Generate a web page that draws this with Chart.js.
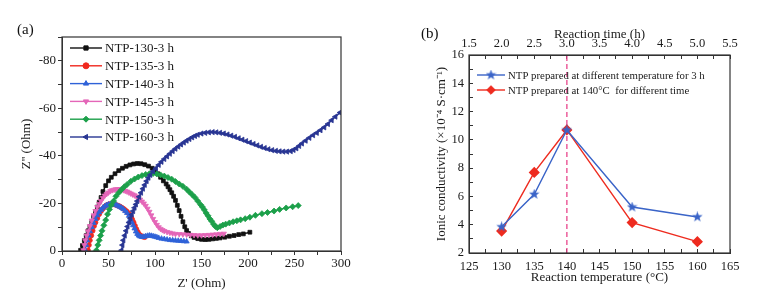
<!DOCTYPE html>
<html>
<head>
<meta charset="utf-8">
<script src="https://cdn.jsdelivr.net/npm/chart.js@4.4.1/dist/chart.umd.min.js"></script>
<style>
  body { margin: 0; background: #fff; width: 762px; height: 295px; position: relative; overflow: hidden; font-family: "Liberation Serif", serif; }
  canvas { position: absolute; top: 0; }
  #ca { left: 0; }
  #cb { left: 381px; }
  .tag { position: absolute; font-size: 15px; color: #111; line-height: 17px; }
</style>
</head>
<body>
<canvas id="ca" width="381" height="295"></canvas>
<canvas id="cb" width="381" height="295"></canvas>
<div class="tag" style="left:17px;top:21px">(a)</div>
<div class="tag" style="left:421px;top:25px">(b)</div>
<script>
// ---- panel (a): Nyquist plots, Z' and Z'' in Ohm ----
const labelsA = ['NTP-130-3 h', 'NTP-135-3 h', 'NTP-140-3 h', 'NTP-145-3 h', 'NTP-150-3 h', 'NTP-160-3 h'];

const re130 = [20,22,24,26,28,30,32,34,36,38,40,42,44,47,50,53,57,61,65,69,73,77,81,85,89,93,97,100,103,106,109,112,114,116,118,120,122,124,126,128,130,132,134,136,139,142,146,150,154,158,162,166,170,175,180,185,190,195,202];
const im130 = [-0.3,-2.3,-4.4,-6.5,-8.5,-10.2,-12,-14.5,-16.5,-18.5,-20.5,-22.5,-25,-27.5,-29.5,-31,-32.5,-33.8,-34.8,-35.6,-36.2,-36.6,-36.8,-36.7,-36.3,-35.7,-34.8,-33.8,-32.5,-31,-29.5,-28.2,-27,-25.8,-24.5,-23,-21.3,-19.2,-17,-14.6,-12.3,-10.2,-8.6,-7.4,-6.4,-5.7,-5.2,-4.9,-4.8,-4.9,-5.1,-5.3,-5.5,-5.8,-6.2,-6.5,-6.9,-7.2,-7.9];

const re135 = [28,29,30,31.5,33,34.5,36,38,40,42,44,46,48,50,52,54,56,58,60,62,64,66,68,70,72,74,75.5,77,78.5,80,81.5,83,85,87,89];
const im135 = [-0.3,-2.5,-4.5,-6.5,-8.5,-10.5,-12,-13.8,-15.5,-16.8,-17.8,-18.7,-19.3,-19.6,-19.8,-19.8,-19.6,-19.4,-19.1,-18.8,-18.3,-17.8,-17.2,-16.5,-15.6,-14.5,-13.3,-12,-10.6,-9.2,-8,-7,-6.4,-6,-5.8];

const re140 = [25,26,27,28.5,30,32,34,36,38,40,42,44,46,48,50,52,54,56,58,60,62,64,66,68,70,72,73.5,75,76.5,78,79.5,81,82.5,84,86,88,90,92,94,96,98,100,102,104,107,110,113,116,119,122,125,128,131,134];
const im140 = [-0.3,-2.5,-4.5,-6.5,-8.3,-10,-11.8,-13.5,-15,-16.3,-17.3,-18.2,-18.8,-19.3,-19.6,-19.7,-19.7,-19.6,-19.4,-19,-18.6,-18.2,-17.6,-16.8,-16,-14.8,-13.5,-12.2,-10.8,-9.5,-8.2,-7.2,-6.5,-6.1,-5.9,-6,-6.2,-6.4,-6.5,-6.4,-6.2,-6,-5.8,-5.5,-5.2,-5,-4.8,-4.6,-4.5,-4.4,-4.3,-4.2,-4.1,-4];

const re145 = [23,24,25,26.5,28,30,32,34,36,38,40,42,44,46,48,50,52,54,56,58,60,62,64,66,68,70,72,74,76,78,80,82,84,86,88,90,92,94,96,98,100,102,104,106,108,110,113,116,119,122,126,130,134,138,142,146,150,154,158,162,166,170,174];
const im145 = [-0.3,-2.5,-4.5,-6.5,-8.3,-10.5,-12.8,-15,-16.8,-18.5,-19.8,-21,-22.3,-23.3,-24,-24.6,-25.2,-25.6,-25.8,-26,-26,-26,-25.9,-25.6,-25.3,-25,-24.6,-24.2,-23.8,-23.4,-22.9,-22.3,-21.6,-20.8,-20,-19,-17.8,-16.5,-15,-13.5,-12.2,-11,-10,-9.3,-8.8,-8.4,-8,-7.7,-7.4,-7.2,-7.1,-7,-6.9,-6.8,-6.7,-6.6,-6.6,-6.7,-6.8,-6.9,-7,-7.2,-7.3];

const re150 = [37,38.5,40,41.5,43,45,47,49,51,53,55.5,58,61,64,67,70,74,78,82,86,90,94,98,102,106,110,114,118,122,126,130,134,137,140,143,146,149,151,153,155,157,159,161,163,165,167,170,173,176,180,184,188,192,197,202,208,215,221,228,234,241,248,254];
const im150 = [-0.3,-2.5,-4.5,-6.5,-8.5,-10.8,-13,-15.5,-17.5,-19.3,-21,-23,-24.5,-25.8,-27,-28,-29.3,-30.3,-31.1,-31.7,-32.2,-32.5,-32.6,-32.4,-32,-31.5,-30.9,-30.2,-29.2,-28.2,-27.2,-26,-24.8,-23.7,-22.5,-21,-19.5,-18.5,-17.3,-16,-14.8,-13.5,-12.5,-11.3,-10.3,-9.8,-10.3,-10.9,-11.3,-11.8,-12.3,-12.7,-13.1,-13.6,-14.2,-15,-15.7,-16.2,-16.8,-17.5,-18.1,-18.6,-19.1];

const re160 = [64,65,66,67.5,69,70.5,72,73.5,75,76.5,78,79.5,81,83,85,87,89,91,93,95,98,101,104,107,110,113,116,119,122,125,128,131,134,137,140,143,146,150,154,158,162,166,170,174,178,182,186,190,194,198,202,206,210,214,218,222,226,230,234,238,242,246,249,252,255,258,262,266,270,274,278,282,286,290,294,299];
const im160 = [-0.3,-2.5,-4.5,-6.5,-8.5,-10.3,-12,-13.8,-15.3,-16.8,-18.2,-19.6,-21,-22.8,-24.5,-26.2,-27.8,-29.4,-30.8,-32,-33.5,-34.8,-36.2,-37.5,-38.7,-39.8,-40.9,-42,-43,-43.9,-44.8,-45.6,-46.4,-47.1,-47.8,-48.4,-48.9,-49.4,-49.7,-49.9,-50,-49.9,-49.7,-49.4,-49,-48.5,-48,-47.4,-46.8,-46.2,-45.6,-45,-44.4,-43.8,-43.3,-42.8,-42.4,-42.1,-41.9,-41.8,-41.8,-42,-42.5,-43.2,-44.2,-45.2,-46.4,-47.6,-48.7,-49.7,-50.8,-52,-53.4,-55,-56.5,-58.2];

// ---- panel (b): ionic conductivity ----
const labelsB = ['NTP prepared at different temperature for 3 h', 'NTP prepared at 140\u00B0C  for different time'];
const tempB = [130, 135, 140, 150, 160];          // reaction temperature (°C), 3 h
const condTemp = [3.85, 6.15, 10.7, 5.25, 4.55];
const timeB = [2.0, 2.5, 3.0, 4.0, 5.0];           // reaction time (h), 140 °C
const condTime = [3.55, 7.7, 10.7, 4.15, 2.8];
const markTemp = 140;

const serif = '"Liberation Serif", "Times New Roman", serif';
const ink = '#1a1a1a';

function pts(xs, ys) { return xs.map((x, i) => ({ x: x, y: ys[i] })); }

function starImage(color, size) {
  const c = document.createElement('canvas');
  c.width = c.height = size;
  const g = c.getContext('2d');
  const r = size / 2, ri = r * 0.42;
  g.beginPath();
  for (let i = 0; i < 10; i++) {
    const a = -Math.PI / 2 + i * Math.PI / 5;
    const rr = i % 2 ? ri : r;
    g.lineTo(r + rr * Math.cos(a), r + rr * Math.sin(a));
  }
  g.closePath();
  g.fillStyle = color;
  g.fill();
  return c;
}

// box round the plot area
const frame = {
  id: 'frame',
  afterDatasetsDraw(chart) {
    const { ctx, chartArea: a } = chart;
    ctx.save();
    ctx.strokeStyle = '#333';
    ctx.lineWidth = 1.2;
    ctx.strokeRect(a.left, a.top, a.right - a.left, a.bottom - a.top);
    ctx.restore();
  }
};

// legend with a line and a marker, like Origin draws it
const lineLegend = {
  id: 'lineLegend',
  afterDraw(chart, args, o) {
    const ctx = chart.ctx;
    ctx.save();
    ctx.font = o.font;
    ctx.textBaseline = 'middle';
    let row = 0;
    chart.data.datasets.forEach(ds => {
      if (ds.noLegend) return;
      const y = o.y + row * o.gap;
      row++;
      ctx.strokeStyle = ds.borderColor;
      ctx.lineWidth = ds.borderWidth;
      ctx.beginPath();
      ctx.moveTo(o.x, y);
      ctx.lineTo(o.x + o.len, y);
      ctx.stroke();
      ctx.fillStyle = ds.pointBackgroundColor;
      ctx.lineWidth = 1;
      Chart.helpers.drawPoint(ctx, { pointStyle: ds.pointStyle, rotation: ds.pointRotation || 0, radius: o.r, borderWidth: 1 }, o.x + o.len / 2, y);
      ctx.fillStyle = ink;
      ctx.fillText(ds.label, o.x + o.len + 3, y + 1);
    });
    ctx.restore();
  }
};

function axis(extra) {
  const base = {
    type: 'linear',
    grid: { drawOnChartArea: false, tickLength: 4, color: '#333' },
    border: { color: '#333', width: 1 },
    ticks: { autoSkip: false, maxRotation: 0, color: ink, font: { family: serif, size: 13 } },
    title: { display: true, color: ink, font: { family: serif, size: 13 } }
  };
  return Chart.helpers.merge(base, extra);
}

// ---- chart (a) ----
const colorsA = ['#111111', '#f0281e', '#2f62d8', '#e466b8', '#1ca04a', '#283593'];
const stylesA = [['rect', 0, 2.7], ['circle', 0, 2.4], ['triangle', 0, 3], ['triangle', 180, 3], ['rectRot', 0, 3], ['triangle', -90, 3]];
const seriesA = [[re130, im130], [re135, im135], [re140, im140], [re145, im145], [re150, im150], [re160, im160]];

new Chart(document.getElementById('ca'), {
  type: 'scatter',
  data: {
    datasets: seriesA.map((s, i) => ({
      label: labelsA[i],
      data: pts(s[0], s[1]),
      showLine: true,
      borderColor: colorsA[i],
      backgroundColor: colorsA[i],
      pointBackgroundColor: colorsA[i],
      pointBorderColor: colorsA[i],
      borderWidth: 1.4,
      pointStyle: stylesA[i][0],
      pointRotation: stylesA[i][1],
      pointRadius: stylesA[i][2],
      pointBorderWidth: 0.8,
      order: -i
    }))
  },
  options: {
    responsive: false,
    animation: false,
    devicePixelRatio: 1,
    layout: { padding: { left: 0, top: 37, right: 40, bottom: 0 } },
    scales: {
      x: axis({
        min: 0, max: 300,
        afterFit: s => { s.height = 44; },
        ticks: { stepSize: 25, padding: 1, callback: v => (v % 50 === 0 ? v : '') },
        title: { text: "Z' (Ohm)", padding: { bottom: 4 } }
      }),
      y: axis({
        min: -90, max: 0, reverse: true,
        afterFit: s => { s.width = 62; },
        ticks: { stepSize: 10, padding: 2, callback: v => (v % 20 === 0 ? v : '') },
        title: { text: "Z'' (Ohm)", padding: { top: 19 } }
      })
    },
    plugins: {
      legend: { display: false },
      tooltip: { enabled: false },
      lineLegend: { x: 70, y: 48, gap: 17.8, len: 32, r: 3, font: '13px ' + serif }
    }
  },
  plugins: [frame, lineLegend]
});

// ---- chart (b) ----
const blueB = '#3a64c8', redB = '#ee2b1f', pinkB = '#e8468c';
const star = starImage(blueB, 11);
const inward = { drawOnChartArea: false, tickLength: -4, color: '#333' };

new Chart(document.getElementById('cb'), {
  type: 'scatter',
  data: {
    datasets: [
      {
        label: labelsB[0],
        data: pts(tempB, condTemp),
        xAxisID: 'x',
        showLine: true,
        borderColor: blueB,
        pointBackgroundColor: blueB,
        borderWidth: 1.4,
        pointStyle: star,
        pointRadius: 5
      },
      {
        label: labelsB[1],
        data: pts(timeB, condTime),
        xAxisID: 'x2',
        showLine: true,
        borderColor: redB,
        pointBackgroundColor: redB,
        pointBorderColor: redB,
        borderWidth: 1.4,
        pointStyle: 'rectRot',
        pointRadius: 4.6
      },
      {
        label: 'marker',
        noLegend: true,
        data: [{ x: markTemp, y: 2 }, { x: markTemp, y: 16 }],
        xAxisID: 'x',
        showLine: true,
        borderColor: pinkB,
        borderWidth: 1.3,
        borderDash: [5, 3],
        pointRadius: 0,
        order: 5
      }
    ]
  },
  options: {
    responsive: false,
    animation: false,
    devicePixelRatio: 1,
    layout: { padding: { left: 0, top: 0, right: 32, bottom: 0 } },
    scales: {
      x: axis({
        position: 'bottom',
        min: 125, max: 165,
        afterFit: s => { s.height = 42; },
        grid: inward,
        ticks: { stepSize: 2.5, padding: 10, font: { size: 12.5 }, callback: v => (v % 5 === 0 ? v : '') },
        title: { text: 'Reaction temperature (\u00B0C)', padding: { bottom: 10 } }
      }),
      x2: axis({
        position: 'top',
        min: 1.5, max: 5.5,
        afterFit: s => { s.height = 55; },
        grid: inward,
        ticks: { stepSize: 0.25, padding: 8, font: { size: 12.5 }, callback: v => (Math.abs(v * 2 - Math.round(v * 2)) < 1e-6 ? v.toFixed(1) : '') },
        title: { text: 'Reaction time (h)', padding: { top: 27 } }
      }),
      y: axis({
        min: 2, max: 16,
        afterFit: s => { s.width = 88; },
        grid: inward,
        ticks: { stepSize: 1, padding: 9, font: { size: 12.5 }, callback: v => (v % 2 === 0 ? v : '') },
        title: { text: 'Ionic conductivity (\u00D710\u207B\u2074 S\u00B7cm\u207B\u00B9)', padding: { top: 53 } }
      })
    },
    plugins: {
      legend: { display: false },
      tooltip: { enabled: false },
      lineLegend: { x: 96, y: 75, gap: 15, len: 28, r: 4.3, font: '10.8px ' + serif }
    }
  },
  plugins: [frame, lineLegend]
});
</script>
</body>
</html>
